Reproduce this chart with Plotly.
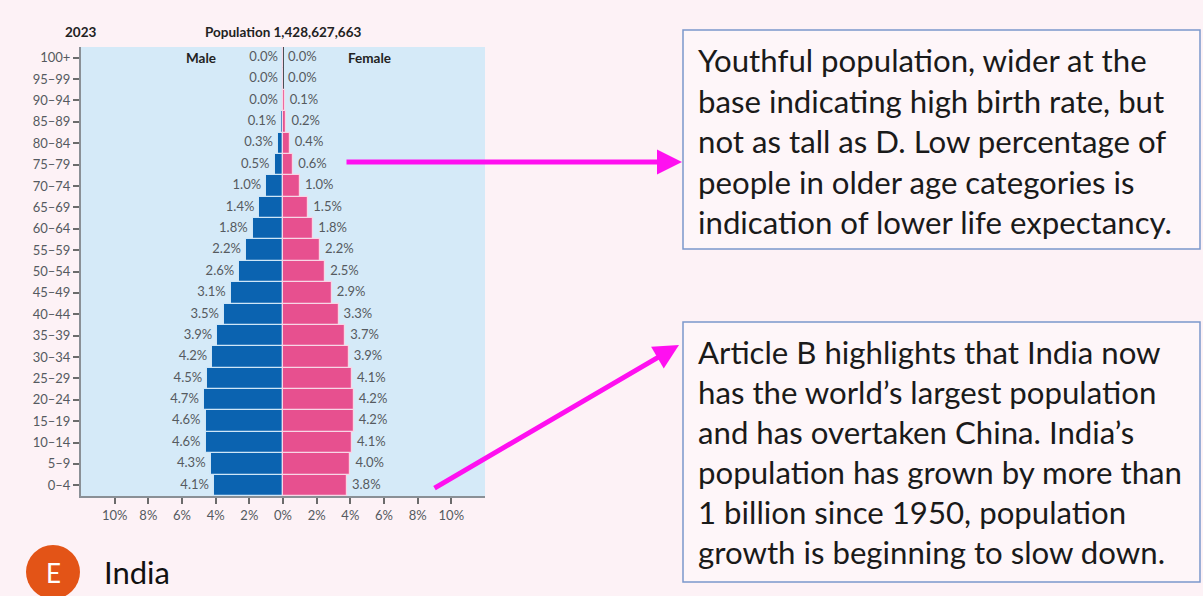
import plotly.graph_objects as go

age_groups = ["0–4", "5–9", "10–14", "15–19", "20–24", "25–29", "30–34", "35–39",
              "40–44", "45–49", "50–54", "55–59", "60–64", "65–69", "70–74", "75–79",
              "80–84", "85–89", "90–94", "95–99", "100+"]
male_pct = [4.1, 4.3, 4.6, 4.6, 4.7, 4.5, 4.2, 3.9, 3.5, 3.1, 2.6, 2.2, 1.8, 1.4, 1.0, 0.5,
            0.3, 0.1, 0.0, 0.0, 0.0]
female_pct = [3.8, 4.0, 4.1, 4.2, 4.2, 4.1, 3.9, 3.7, 3.3, 2.9, 2.5, 2.2, 1.8, 1.5, 1.0, 0.6,
              0.4, 0.2, 0.1, 0.0, 0.0]
x_tick_vals = [-10, -8, -6, -4, -2, 0, 2, 4, 6, 8, 10]
x_tick_text = ["10%", "8%", "6%", "4%", "2%", "0%", "2%", "4%", "6%", "8%", "10%"]

year_label = "2023"
population_label = "Population 1,428,627,663"
box1_lines = ["Youthful population, wider at the",
              "base indicating high birth rate, but",
              "not as tall as D. Low percentage of",
              "people in older age categories is",
              "indication of lower life expectancy."]
box2_lines = ["Article B highlights that India now",
              "has the world’s largest population",
              "and has overtaken China. India’s",
              "population has grown by more than",
              "1 billion since 1950, population",
              "growth is beginning to slow down."]

W, H = 1203, 596
ML, MR, MT, MB = 81, 718, 47, 100
PW = W - ML - MR
PH = H - MT - MB


def px(x):
    return (x - ML) / PW


def py(y):
    return (H - MB - y) / PH


MALE_C = "#0b63b0"
FEMALE_C = "#e7508f"
PLOT_BG = "#d5eaf8"
PAGE_BG = "#fdf2f6"
LABEL_C = "#555a60"
FONT = "Lato, 'Open Sans', sans-serif"

fig = go.Figure()
fig.add_trace(go.Bar(y=age_groups, x=[-v for v in male_pct], orientation="h",
                     marker=dict(color=MALE_C, line=dict(color="#cfe6f7", width=1.2)),
                     name="Male", hoverinfo="skip"))
fig.add_trace(go.Bar(y=age_groups, x=female_pct, orientation="h",
                     marker=dict(color=FEMALE_C, line=dict(color="#f7d6e6", width=1.2)),
                     name="Female", hoverinfo="skip"))
fig.add_trace(go.Scatter(y=age_groups, x=[-v - 0.3 for v in male_pct], mode="text",
                         text=[f"{v:.1f}%" for v in male_pct], textposition="middle left",
                         textfont=dict(size=13, color=LABEL_C, family=FONT), hoverinfo="skip"))
fig.add_trace(go.Scatter(y=age_groups, x=[v + 0.3 for v in female_pct], mode="text",
                         text=[f"{v:.1f}%" for v in female_pct], textposition="middle right",
                         textfont=dict(size=13, color=LABEL_C, family=FONT), hoverinfo="skip"))

fig.update_layout(
    width=W, height=H, barmode="overlay", bargap=0.0, showlegend=False,
    paper_bgcolor=PAGE_BG, plot_bgcolor=PLOT_BG,
    margin=dict(l=ML, r=MR, t=MT, b=MB),
    font=dict(family=FONT, color=LABEL_C),
    xaxis=dict(range=[-12, 12], tickvals=x_tick_vals, ticktext=x_tick_text,
               ticks="outside", ticklen=6, tickcolor="#6b6b6b", tickwidth=1.5,
               showline=True, linecolor="#8a9096", linewidth=2, showgrid=False,
               zeroline=True, zerolinecolor="#4a4f55", zerolinewidth=1.5,
               tickfont=dict(size=13, color=LABEL_C), fixedrange=True),
    yaxis=dict(categoryorder="array", categoryarray=age_groups, range=[-0.5, 20.5],
               ticks="outside", ticklen=6, tickcolor="#6b6b6b", tickwidth=1.5,
               showline=True, linecolor="#8a9096", linewidth=2, showgrid=False,
               tickfont=dict(size=13, color=LABEL_C), fixedrange=True),
)

shapes = []
annotations = []
HDR = dict(size=13.5, color="#222")
annotations.append(dict(x=px(80), y=py(32), xref="paper", yref="paper", text=f"<b>{year_label}</b>",
                        showarrow=False, font=HDR, xanchor="center", yanchor="middle"))
annotations.append(dict(x=px(283), y=py(32), xref="paper", yref="paper", text=f"<b>{population_label}</b>",
                        showarrow=False, font=HDR, xanchor="center", yanchor="middle"))
annotations.append(dict(x=px(201), y=py(58), xref="paper", yref="paper", text="<b>Male</b>",
                        showarrow=False, font=HDR, xanchor="center", yanchor="middle"))
annotations.append(dict(x=px(369), y=py(58), xref="paper", yref="paper", text="<b>Female</b>",
                        showarrow=False, font=HDR, xanchor="center", yanchor="middle"))

BOX_C = "#7b98cc"
shapes.append(dict(type="rect", xref="paper", yref="paper", x0=px(683), x1=px(1200), y0=py(30), y1=py(249),
                   line=dict(color=BOX_C, width=1.5), fillcolor="#fef6f9", layer="below"))
shapes.append(dict(type="rect", xref="paper", yref="paper", x0=px(683), x1=px(1200), y0=py(322), y1=py(582),
                   line=dict(color=BOX_C, width=1.5), fillcolor="#fef6f9", layer="below"))
for i, line in enumerate(box1_lines):
    annotations.append(dict(x=px(696), y=py(60 + i * 40.5), xref="paper", yref="paper", text=line,
                            showarrow=False, font=dict(size=31.2, color="#1a1a1a"),
                            xanchor="left", yanchor="middle"))
for i, line in enumerate(box2_lines):
    annotations.append(dict(x=px(696), y=py(352 + i * 40), xref="paper", yref="paper", text=line,
                            showarrow=False, font=dict(size=31.2, color="#1a1a1a"),
                            xanchor="left", yanchor="middle"))

ARROW_C = "#ff10f0"
annotations.append(dict(x=px(682), y=py(162), xref="paper", yref="paper", ax=345 - 682, ay=0,
                        axref="pixel", ayref="pixel", text="", showarrow=True,
                        arrowhead=2, arrowsize=1.0, arrowwidth=5, arrowcolor=ARROW_C))
annotations.append(dict(x=px(679), y=py(345), xref="paper", yref="paper", ax=433 - 679, ay=489 - 345,
                        axref="pixel", ayref="pixel", text="", showarrow=True,
                        arrowhead=2, arrowsize=1.0, arrowwidth=5, arrowcolor=ARROW_C))

shapes.append(dict(type="circle", xref="paper", yref="paper", x0=px(26), x1=px(80), y0=py(545), y1=py(599),
                   line=dict(color="#e35417", width=0), fillcolor="#e35417"))
annotations.append(dict(x=px(53), y=py(573), xref="paper", yref="paper", text="E", showarrow=False,
                        font=dict(size=26, color="white"), xanchor="center", yanchor="middle"))
annotations.append(dict(x=px(102), y=py(572), xref="paper", yref="paper", text="India", showarrow=False,
                        font=dict(size=31, color="#111"), xanchor="left", yanchor="middle"))

fig.update_layout(shapes=shapes, annotations=annotations)
fig.write_html("out.html", config={"displayModeBar": False},
               post_script="document.body.style.margin='0';document.body.style.overflow='hidden';")
